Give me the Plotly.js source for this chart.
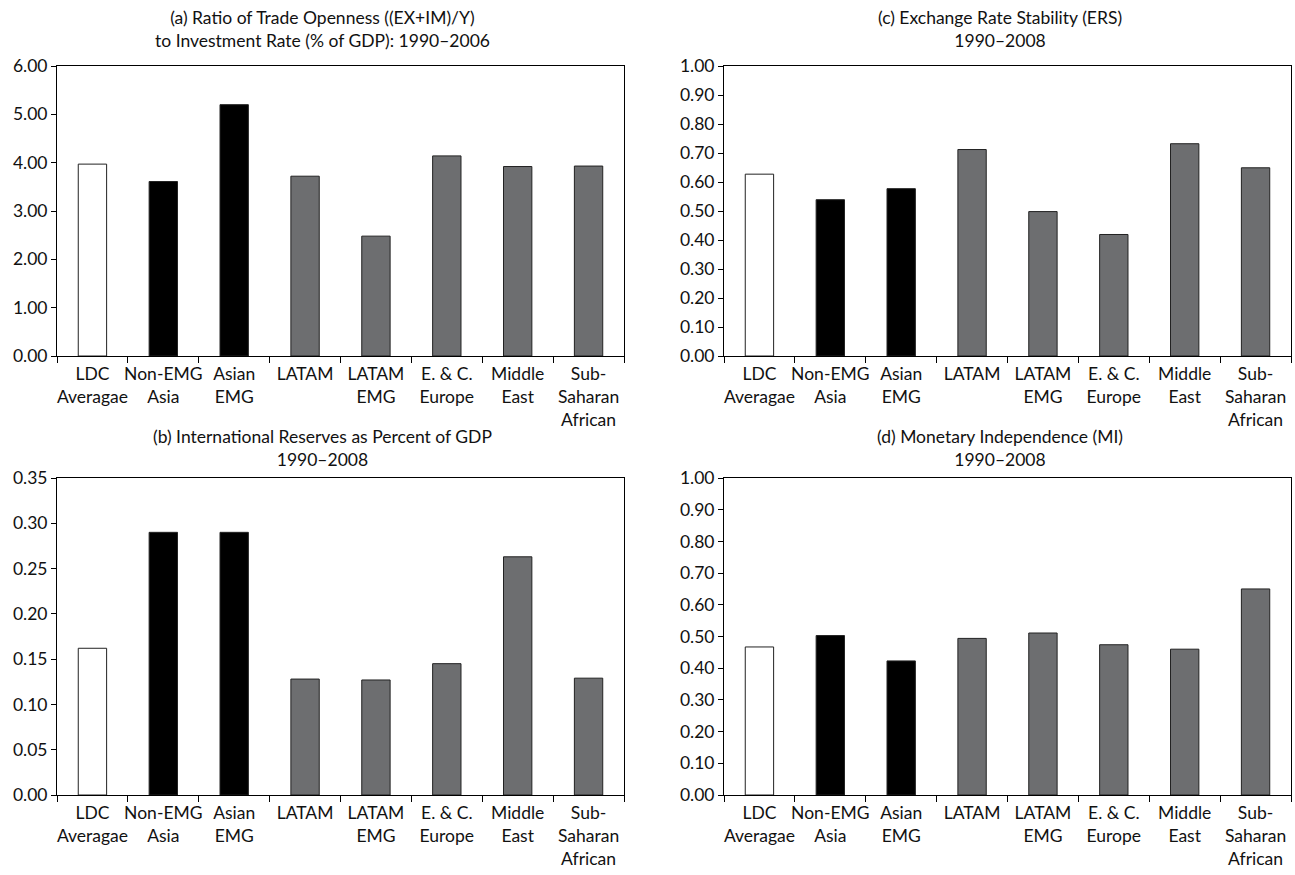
<!DOCTYPE html>
<html>
<head>
<meta charset="utf-8">
<script src="https://cdn.plot.ly/plotly-3.0.1.min.js"></script>
<style>html,body{margin:0;padding:0;background:#fff;}#chart{width:1295px;height:875px;}</style>
</head>
<body>
<div id="chart"></div>
<script>
// ---- DATA ----
const categories = ["LDC<br>Averagae", "Non-EMG<br>Asia", "Asian<br>EMG", "LATAM", "LATAM<br>EMG", "E. & C.<br>Europe", "Middle<br>East", "Sub-<br>Saharan<br>African"];
const tradeOpennessRatio = [3.97, 3.61, 5.20, 3.72, 2.48, 4.14, 3.92, 3.93];
const reservesPctGDP = [0.162, 0.290, 0.290, 0.128, 0.127, 0.145, 0.263, 0.129];
const exchangeRateStability = [0.627, 0.539, 0.577, 0.712, 0.498, 0.419, 0.732, 0.649];
const monetaryIndependence = [0.467, 0.503, 0.423, 0.494, 0.511, 0.474, 0.460, 0.650];
const titleA = "(a) Ratio of Trade Openness ((EX+IM)/Y)<br>to Investment Rate (% of GDP): 1990\u20132006";
const titleB = "(b) International Reserves as Percent of GDP<br>1990\u20132008";
const titleC = "(c) Exchange Rate Stability (ERS)<br>1990\u20132008";
const titleD = "(d) Monetary Independence (MI)<br>1990\u20132008";

// ---- STYLE ----
const barColors = ["#ffffff", "#000000", "#000000", "#6d6e70", "#6d6e70", "#6d6e70", "#6d6e70", "#6d6e70"];
const FONT = "Lato, 'Open Sans', sans-serif";
const FS = 17.5;
const W = 1295, H = 875;
const dxL = [57 / W, 624 / W], dxR = [724 / W, 1291 / W];
const dyT = [1 - 356 / H, 1 - 66 / H], dyB = [1 - 795 / H, 1 - 478 / H];

function bar(y, xa, ya) {
  return {
    type: "bar", x: categories, y: y, xaxis: xa, yaxis: ya,
    width: 0.4,
    marker: { color: barColors, line: { color: "#222", width: 1 } },
    hoverinfo: "x+y", showlegend: false
  };
}
const data = [
  bar(tradeOpennessRatio, "x", "y"),
  bar(exchangeRateStability, "x2", "y2"),
  bar(reservesPctGDP, "x3", "y3"),
  bar(monetaryIndependence, "x4", "y4")
];

function xax(dom, anchor) {
  return {
    domain: dom, anchor: anchor, type: "category",
    showline: true, linecolor: "#000", linewidth: 1, mirror: true,
    ticks: "outside", tickson: "boundaries", ticklen: 6, tickcolor: "#000",
    showgrid: false, zeroline: false,
    tickfont: { family: FONT, size: FS, color: "#111" }, tickangle: 0,
    ticklabelstandoff: 2,
    fixedrange: true
  };
}
function yax(dom, anchor, range, dtick) {
  return {
    domain: dom, anchor: anchor, range: range, dtick: dtick, tick0: 0,
    tickformat: ".2f",
    showline: true, linecolor: "#000", linewidth: 1, mirror: true,
    ticks: "outside", ticklen: 5, tickcolor: "#000",
    showgrid: false, zeroline: false,
    tickfont: { family: FONT, size: FS, color: "#111" },
    fixedrange: true
  };
}
function ttl(text, xc, ytop) {
  return {
    text: text, xref: "paper", yref: "paper", x: xc / W, y: 1 - ytop / H,
    xanchor: "center", yanchor: "top", showarrow: false, align: "center",
    font: { family: FONT, size: FS, color: "#111" }
  };
}

const layout = {
  width: W, height: H,
  margin: { l: 0, r: 0, t: 0, b: 0 },
  paper_bgcolor: "#fff", plot_bgcolor: "#fff",
  bargap: 0.6,
  xaxis: xax(dxL, "y"), yaxis: yax(dyT, "x", [0, 6], 1),
  xaxis2: xax(dxR, "y2"), yaxis2: yax(dyT, "x2", [0, 1], 0.1),
  xaxis3: xax(dxL, "y3"), yaxis3: yax(dyB, "x3", [0, 0.35], 0.05),
  xaxis4: xax(dxR, "y4"), yaxis4: yax(dyB, "x4", [0, 1], 0.1),
  annotations: [
    ttl(titleA, 322, 5),
    ttl(titleC, 1000, 5),
    ttl(titleB, 322, 424),
    ttl(titleD, 1000, 424)
  ]
};

Plotly.newPlot("chart", data, layout, { displayModeBar: false, staticPlot: true });
</script>
</body>
</html>
